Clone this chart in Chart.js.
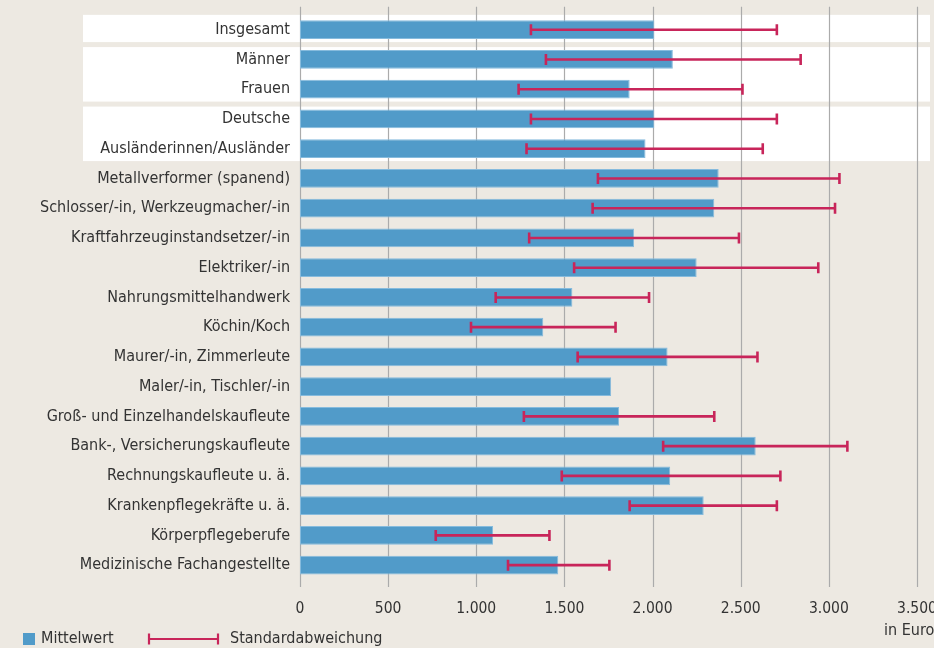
<!DOCTYPE html>
<html>
<head>
<meta charset="utf-8">
<script src="https://cdn.jsdelivr.net/npm/chart.js@4.4.0/dist/chart.umd.min.js"></script>
<style>
  html, body { margin: 0; padding: 0; background: #ede9e2; }
</style>
</head>
<body>
<canvas id="chart" width="934" height="648"></canvas>
<script>
const categories = [
  "Insgesamt", "Männer", "Frauen", "Deutsche", "Ausländerinnen/Ausländer",
  "Metallverformer (spanend)", "Schlosser/-in, Werkzeugmacher/-in",
  "Kraftfahrzeuginstandsetzer/-in", "Elektriker/-in", "Nahrungsmittelhandwerk",
  "Köchin/Koch", "Maurer/-in, Zimmerleute", "Maler/-in, Tischler/-in",
  "Groß- und Einzelhandelskaufleute", "Bank-, Versicherungskaufleute",
  "Rechnungskaufleute u. ä.", "Krankenpflegekräfte u. ä.", "Körperpflegeberufe",
  "Medizinische Fachangestellte"
];
const meanValues = [2010, 2115, 1870, 2010, 1960, 2375, 2350, 1895, 2250, 1545, 1380, 2085, 1765, 1810, 2585, 2100, 2290, 1095, 1465];
const sdLow  = [1310, 1395, 1240, 1310, 1285, 1690, 1660, 1300, 1555, 1110, 970, 1575, null, 1270, 2060, 1485, 1870, 770, 1180];
const sdHigh = [2705, 2840, 2510, 2705, 2625, 3060, 3035, 2490, 2940, 1980, 1790, 2595, null, 2350, 3105, 2725, 2705, 1415, 1755];
const tickValues = [0, 500, 1000, 1500, 2000, 2500, 3000, 3500];
const tickLabels = ["0", "500", "1.000", "1.500", "2.000", "2.500", "3.000", "3.500"];
// groups that get a white band behind them (first, last category index)
const bandGroups = [[0, 0], [1, 2], [3, 4]];

const FONT = "'DejaVu Sans Condensed', 'DejaVu Sans', sans-serif";
const BAR_COLOR = "#519bc9";
const ERR_COLOR = "#c8255a";
const TEXT_COLOR = "#333333";
const GRID_COLOR = "#ababab";

// background, white bands and long grid lines
const backdrop = {
  id: "backdrop",
  beforeDraw(chart) {
    const { ctx, chartArea, scales } = chart;
    const y = scales.y, x = scales.x;
    const step = (chartArea.bottom - chartArea.top) / categories.length;
    ctx.save();
    ctx.fillStyle = "#ede9e2";
    ctx.fillRect(0, 0, chart.width, chart.height);
    ctx.fillStyle = "#ffffff";
    bandGroups.forEach(([a, b]) => {
      const top = y.getPixelForValue(a) - step / 2 + (a === 0 ? 0 : 2.5);
      const bottom = y.getPixelForValue(b) + step / 2 - 2.5;
      ctx.fillRect(83, top, 930 - 83, bottom - top);
    });
    ctx.strokeStyle = GRID_COLOR;
    ctx.lineWidth = 1.2;
    tickValues.forEach(v => {
      const px = Math.round(x.getPixelForValue(v)) + 0.5;
      ctx.beginPath();
      ctx.moveTo(px, chartArea.top - 8);
      ctx.lineTo(px, chartArea.bottom + 7);
      ctx.stroke();
    });
    ctx.restore();
  }
};

// standard deviation whiskers
const errorBars = {
  id: "errorBars",
  afterDatasetsDraw(chart) {
    const { ctx, scales } = chart;
    ctx.save();
    ctx.strokeStyle = ERR_COLOR;
    ctx.lineWidth = 2.6;
    categories.forEach((c, i) => {
      if (sdLow[i] == null) return;
      const cy = scales.y.getPixelForValue(i);
      const x1 = scales.x.getPixelForValue(sdLow[i]);
      const x2 = scales.x.getPixelForValue(sdHigh[i]);
      ctx.beginPath();
      ctx.moveTo(x1, cy); ctx.lineTo(x2, cy);
      ctx.moveTo(x1, cy - 5.5); ctx.lineTo(x1, cy + 5.5);
      ctx.moveTo(x2, cy - 5.5); ctx.lineTo(x2, cy + 5.5);
      ctx.stroke();
    });
    ctx.restore();
  }
};

// legend and unit label
const footer = {
  id: "footer",
  afterDraw(chart) {
    const { ctx } = chart;
    ctx.save();
    ctx.font = "16px " + FONT;
    ctx.fillStyle = TEXT_COLOR;
    ctx.textBaseline = "middle";
    ctx.fillText("in Euro", 884, 631);
    ctx.fillStyle = BAR_COLOR;
    ctx.fillRect(23, 633, 12, 12);
    ctx.fillStyle = TEXT_COLOR;
    ctx.fillText("Mittelwert", 41, 639);
    ctx.strokeStyle = ERR_COLOR;
    ctx.lineWidth = 2.2;
    ctx.beginPath();
    ctx.moveTo(149, 639); ctx.lineTo(218, 639);
    ctx.moveTo(149, 633.5); ctx.lineTo(149, 644.5);
    ctx.moveTo(218, 633.5); ctx.lineTo(218, 644.5);
    ctx.stroke();
    ctx.fillText("Standardabweichung", 230, 639);
    ctx.restore();
  }
};

new Chart(document.getElementById("chart"), {
  type: "bar",
  data: {
    labels: categories,
    datasets: [{
      label: "Mittelwert",
      data: meanValues,
      backgroundColor: BAR_COLOR,
      borderColor: "#86bbdd",
      borderWidth: 1,
      borderSkipped: false,
      categoryPercentage: 1,
      barPercentage: 0.63
    }]
  },
  options: {
    indexAxis: "y",
    responsive: false,
    animation: false,
    layout: { padding: { top: 14.85, right: 17, bottom: 20, left: 0 } },
    plugins: {
      legend: { display: false },
      tooltip: { enabled: false }
    },
    scales: {
      x: {
        min: 0,
        max: 3500,
        grid: { display: false, drawTicks: false },
        border: { display: false },
        ticks: {
          stepSize: 500,
          padding: 20,
          color: TEXT_COLOR,
          font: { family: FONT, size: 15.5 },
          maxRotation: 0,
          callback: v => tickLabels[tickValues.indexOf(v)]
        },
        afterFit(scale) {
          scale.height = 48;
          scale.paddingLeft = 0;
          scale.paddingRight = 0;
        }
      },
      y: {
        grid: { display: false, drawTicks: false },
        border: { display: false },
        ticks: {
          padding: 10,
          color: TEXT_COLOR,
          font: { family: FONT, size: 16 },
          autoSkip: false
        },
        afterFit(scale) {
          scale.width = 300;
          scale.paddingTop = 0;
          scale.paddingBottom = 0;
        }
      }
    }
  },
  plugins: [backdrop, errorBars, footer]
});
</script>
</body>
</html>
